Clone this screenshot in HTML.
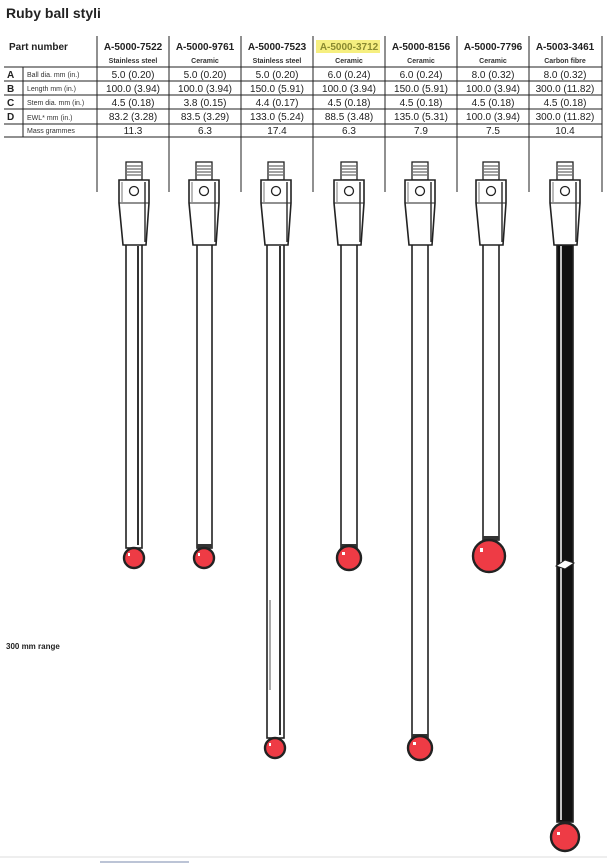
<!DOCTYPE html>
<html><head><meta charset="utf-8"><style>
body{margin:0;background:#fff;width:607px;height:863px;overflow:hidden;font-family:"Liberation Sans",Arial,sans-serif;}
svg{position:absolute;left:0;top:0}
</style></head><body>
<svg width="607" height="863" viewBox="0 0 607 863" font-family="Liberation Sans, Arial, sans-serif">
<defs>
<g id="head">
  <rect x="-8" y="0" width="16" height="18" fill="#fff" stroke="#222" stroke-width="1.3"/>
  <line x1="-7" y1="4" x2="7" y2="4" stroke="#444"/><line x1="-7" y1="7" x2="7" y2="7" stroke="#444"/>
  <line x1="-7" y1="10" x2="7" y2="10" stroke="#444"/><line x1="-7" y1="13" x2="7" y2="13" stroke="#444"/>
  <path d="M-15 18 H15 V41 L12 83 H-11 L-15 41 Z" fill="#fff" stroke="#222" stroke-width="1.6"/>
  <line x1="-15" y1="41" x2="15" y2="41" stroke="#222"/>
  <line x1="11" y1="20" x2="11" y2="80" stroke="#333" stroke-width="1.5"/>
  <line x1="-12" y1="20" x2="-12" y2="40" stroke="#777"/>
  <circle cx="0" cy="29" r="4.5" fill="#fff" stroke="#222" stroke-width="1.3"/>
</g>
</defs>
<text x="6" y="18" font-size="14" font-weight="bold" fill="#222">Ruby ball styli</text>
<g stroke="#222" stroke-width="1">
  <line x1="97" y1="36" x2="97" y2="192"/><line x1="169" y1="36" x2="169" y2="192"/>
  <line x1="241" y1="36" x2="241" y2="192"/><line x1="313" y1="36" x2="313" y2="192"/>
  <line x1="385" y1="36" x2="385" y2="192"/><line x1="457" y1="36" x2="457" y2="192"/>
  <line x1="529" y1="36" x2="529" y2="192"/><line x1="602" y1="36" x2="602" y2="192"/>
  <line x1="4" y1="67" x2="602" y2="67"/><line x1="4" y1="81" x2="602" y2="81"/>
  <line x1="4" y1="95" x2="602" y2="95"/><line x1="4" y1="109" x2="602" y2="109"/>
  <line x1="4" y1="124" x2="602" y2="124"/><line x1="4" y1="137" x2="602" y2="137"/>
  <line x1="23" y1="67" x2="23" y2="137"/>
</g>
<rect x="316" y="40" width="64" height="13" fill="#f6ef80"/>
<text x="9" y="50" font-size="10" font-weight="bold" fill="#222">Part number</text>
<g font-size="10" font-weight="bold" fill="#222" text-anchor="middle">
  <text x="133" y="50">A-5000-7522</text><text x="205" y="50">A-5000-9761</text><text x="277" y="50">A-5000-7523</text>
  <text x="349" y="50" fill="#8a8a30">A-5000-3712</text><text x="421" y="50">A-5000-8156</text><text x="493" y="50">A-5000-7796</text><text x="565" y="50">A-5003-3461</text>
</g>
<g font-size="7" font-weight="bold" fill="#333" text-anchor="middle">
  <text x="133" y="63">Stainless steel</text><text x="205" y="63">Ceramic</text><text x="277" y="63">Stainless steel</text>
  <text x="349" y="63">Ceramic</text><text x="421" y="63">Ceramic</text><text x="493" y="63">Ceramic</text><text x="565" y="63">Carbon fibre</text>
</g>
<g font-size="10" font-weight="bold" fill="#222">
  <text x="7" y="78">A</text><text x="7" y="92">B</text><text x="7" y="106">C</text><text x="7" y="120">D</text>
</g>
<g font-size="7" fill="#333">
  <text x="27" y="77">Ball dia. mm (in.)</text><text x="27" y="91">Length mm (in.)</text>
  <text x="27" y="105">Stem dia. mm (in.)</text><text x="27" y="120">EWL* mm (in.)</text><text x="27" y="133">Mass grammes</text>
</g>
<g font-size="10" fill="#222" text-anchor="middle">
  <text x="133" y="78">5.0 (0.20)</text><text x="205" y="78">5.0 (0.20)</text><text x="277" y="78">5.0 (0.20)</text><text x="349" y="78">6.0 (0.24)</text><text x="421" y="78">6.0 (0.24)</text><text x="493" y="78">8.0 (0.32)</text><text x="565" y="78">8.0 (0.32)</text>
  <text x="133" y="92">100.0 (3.94)</text><text x="205" y="92">100.0 (3.94)</text><text x="277" y="92">150.0 (5.91)</text><text x="349" y="92">100.0 (3.94)</text><text x="421" y="92">150.0 (5.91)</text><text x="493" y="92">100.0 (3.94)</text><text x="565" y="92">300.0 (11.82)</text>
  <text x="133" y="106">4.5 (0.18)</text><text x="205" y="106">3.8 (0.15)</text><text x="277" y="106">4.4 (0.17)</text><text x="349" y="106">4.5 (0.18)</text><text x="421" y="106">4.5 (0.18)</text><text x="493" y="106">4.5 (0.18)</text><text x="565" y="106">4.5 (0.18)</text>
  <text x="133" y="120">83.2 (3.28)</text><text x="205" y="120">83.5 (3.29)</text><text x="277" y="120">133.0 (5.24)</text><text x="349" y="120">88.5 (3.48)</text><text x="421" y="120">135.0 (5.31)</text><text x="493" y="120">100.0 (3.94)</text><text x="565" y="120">300.0 (11.82)</text>
  <text x="133" y="134">11.3</text><text x="205" y="134">6.3</text><text x="277" y="134">17.4</text><text x="349" y="134">6.3</text><text x="421" y="134">7.9</text><text x="493" y="134">7.5</text><text x="565" y="134">10.4</text>
</g>
<g stroke="#222" stroke-width="1.6" fill="#fff">
  <rect x="126" y="244" width="16" height="304"/>
  <rect x="197" y="244" width="15" height="304"/>
  <rect x="267" y="244" width="17" height="494"/>
  <rect x="341" y="244" width="16" height="304"/>
  <rect x="412" y="244" width="16" height="494"/>
  <rect x="483" y="244" width="16" height="296"/>
  <rect x="557" y="244" width="16" height="578" fill="#111"/>
</g>
<g stroke="#333" stroke-width="2">
  <line x1="138" y1="246" x2="138" y2="545"/>
  <line x1="280" y1="246" x2="280" y2="735"/>
  <line x1="270" y1="600" x2="270" y2="690" stroke="#555" stroke-width="1"/>
</g>
<line x1="561" y1="246" x2="561" y2="820" stroke="#fff" stroke-width="1.5"/>
<path d="M556 566 L565 560 L574 563 L565 569 Z" fill="#fff" stroke="#222"/>
<g fill="#333"><rect x="341" y="544" width="16" height="4"/><rect x="197" y="544" width="15" height="4"/><rect x="412" y="734" width="16" height="4"/><rect x="483" y="536" width="16" height="4"/></g>
<use href="#head" x="134" y="162"/><use href="#head" x="204" y="162"/><use href="#head" x="276" y="162"/>
<use href="#head" x="349" y="162"/><use href="#head" x="420" y="162"/><use href="#head" x="491" y="162"/><use href="#head" x="565" y="162"/>
<g fill="#ee3b45" stroke="#222" stroke-width="2.4">
  <circle cx="134" cy="558" r="10"/><circle cx="204" cy="558" r="10"/><circle cx="275" cy="748" r="10"/>
  <circle cx="349" cy="558" r="12"/><circle cx="420" cy="748" r="12"/><circle cx="489" cy="556" r="16"/><circle cx="565" cy="837" r="14"/>
</g>
<g fill="#fff">
  <rect x="128" y="553" width="2" height="3"/><rect x="198" y="553" width="2" height="3"/><rect x="269" y="743" width="2" height="3"/>
  <rect x="342" y="552" width="3" height="3"/><rect x="413" y="742" width="3" height="3"/><rect x="480" y="548" width="3" height="4"/><rect x="557" y="832" width="3" height="3"/>
</g>
<text x="6" y="649" font-size="8" font-weight="bold" fill="#222">300 mm range</text>
<line x1="0" y1="857" x2="607" y2="857" stroke="#ddd" stroke-width="1"/>
<rect x="100" y="861" width="89" height="2" fill="#bcc4d6"/>
</svg>
</body></html>
